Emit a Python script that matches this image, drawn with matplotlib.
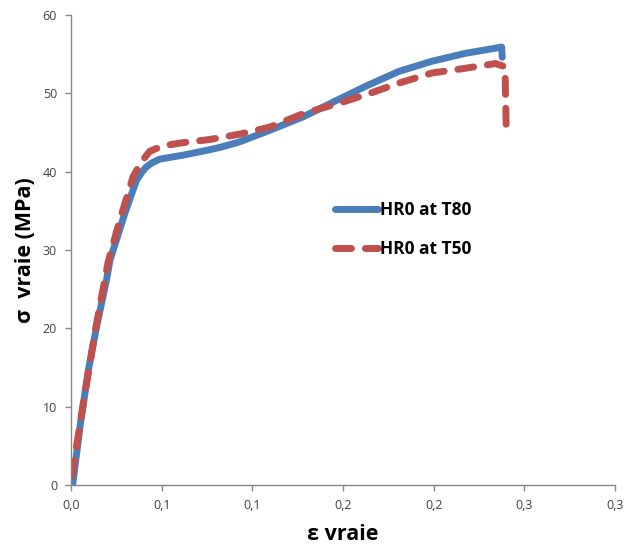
import numpy as np
import matplotlib.pyplot as plt

plt.rcParams['font.family'] = ['Open Sans', 'DejaVu Sans']

# true strain / true stress
eps_t80 = [0.0009, 0.005, 0.0096, 0.0141, 0.0196, 0.0215, 0.0297, 0.0361, 0.039,
           0.0415, 0.0445, 0.0489, 0.0617, 0.0764, 0.0822, 0.0929, 0.1098, 0.128,
           0.1465, 0.1625, 0.1808, 0.1991, 0.2174, 0.2375, 0.2378]
sig_t80 = [0.0, 7.5, 14.7, 20.2, 26.2, 28.7, 34.7, 38.9, 39.9,
           40.6, 41.1, 41.6, 42.1, 42.8, 43.1, 43.8, 45.3, 47.0,
           49.1, 50.9, 52.8, 54.1, 55.1, 55.9, 54.6]

eps_t50 = [0.0004, 0.0072, 0.014, 0.0205, 0.0269, 0.0343, 0.039, 0.0434, 0.0507,
           0.0617, 0.0764, 0.0932, 0.1098, 0.128, 0.150, 0.1648, 0.1808,
           0.1991, 0.2174, 0.234, 0.2393, 0.2400]
sig_t50 = [1.1, 11.0, 20.5, 28.5, 33.8, 39.4, 41.3, 42.6, 43.3,
           43.7, 44.1, 44.8, 45.7, 47.4, 48.9, 50.0, 51.3,
           52.6, 53.2, 53.8, 53.4, 45.7]

x_ticks = [0, 0.05, 0.1, 0.15, 0.2, 0.25, 0.3]
x_labels = ['0,0', '0,1', '0,1', '0,2', '0,2', '0,3', '0,3']
y_ticks = [0, 10, 20, 30, 40, 50, 60]

blue = '#4a7ebb'
red = '#c0504d'
grey = '#868686'

fig = plt.figure(figsize=(6.25, 5.45), dpi=100)
ax = fig.add_axes([71/625, 1 - 485/545, 544/625, 470/545])

ax.plot(eps_t80, sig_t80, color=blue, lw=5, solid_capstyle='round',
        solid_joinstyle='round', label='HR0 at T80')
ax.plot(eps_t50, sig_t50, color=red, lw=5, linestyle=(0, (2.3, 2.0)),
        dash_capstyle='round', dash_joinstyle='round', label='HR0 at T50')

ax.set_xlim(0, 0.3)
ax.set_ylim(0, 60)
ax.set_xticks(x_ticks)
ax.set_xticklabels(x_labels)
ax.set_yticks(y_ticks)

for s in ['top', 'right']:
    ax.spines[s].set_visible(False)
for s in ['left', 'bottom']:
    ax.spines[s].set_color(grey)
    ax.spines[s].set_linewidth(1.0)
ax.tick_params(colors=grey, length=4, width=1.0, labelcolor='#404040', labelsize=9)
ax.tick_params(axis='x', pad=6)
ax.tick_params(axis='y', pad=6)

ax.set_xlabel('ε vraie', fontsize=15.5, fontweight='bold', va='center')
ax.xaxis.set_label_coords(0.5, (485 - 535) / 470)
ax.set_ylabel('σ  vraie (MPa)', fontsize=15.5, fontweight='bold')
ax.yaxis.set_label_coords((36 - 71) / 544, 0.5)

ax.legend(loc='upper left', bbox_to_anchor=(0.485, 0.604), frameon=False,
          prop={'weight': 'bold', 'size': 12.5}, handlelength=2.5,
          handletextpad=0.1, labelspacing=1.2, borderpad=0, borderaxespad=0)

fig.savefig('out.png', dpi=100)
